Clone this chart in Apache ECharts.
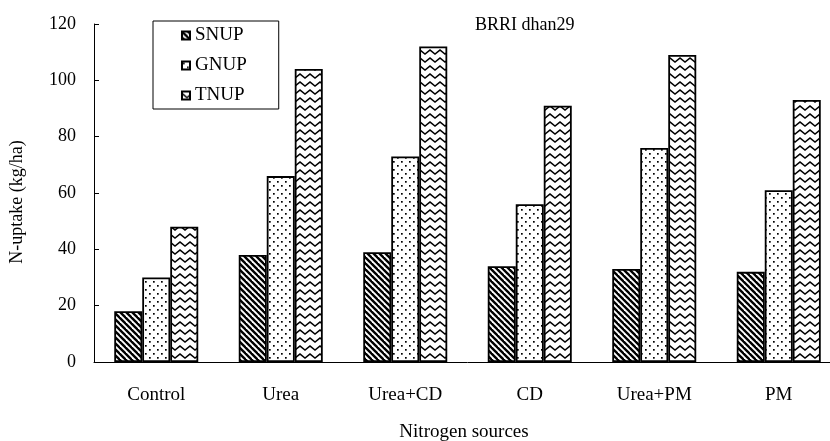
<!DOCTYPE html>
<html>
<head>
<meta charset="utf-8">
<script src="https://cdn.jsdelivr.net/npm/echarts@6/dist/echarts.min.js"></script>
<style>html,body{margin:0;padding:0;background:#fff;overflow:hidden;width:830px;height:441px}#c{width:841px;height:441px}</style>
</head>
<body>
<div id="c"></div>
<script>
const categories = ['Control', 'Urea', 'Urea+CD', 'CD', 'Urea+PM', 'PM'];
const snup = [18, 38, 39, 34, 33, 32];
const gnup = [30, 66, 73, 56, 76, 61];
const tnup = [48, 104, 112, 91, 109, 93];
const seriesNames = ['SNUP', 'GNUP', 'TNUP'];
const yMin = 0, yMax = 120, yStep = 20;

const FONT = '"Liberation Serif", "Times New Roman", serif';

function stripes() {
  const c = document.createElement('canvas'); c.width = 6; c.height = 6;
  const g = c.getContext('2d');
  g.fillStyle = '#fff'; g.fillRect(0, 0, 6, 6);
  g.strokeStyle = '#000'; g.lineWidth = 2.4;
  for (let k = -6; k <= 6; k += 6) {
    g.beginPath(); g.moveTo(k - 1, -1); g.lineTo(k + 7, 7); g.stroke();
  }
  return { image: c, repeat: 'repeat' };
}
function dots() {
  const c = document.createElement('canvas'); c.width = 8; c.height = 8;
  const g = c.getContext('2d');
  g.fillStyle = '#fff'; g.fillRect(0, 0, 8, 8);
  g.fillStyle = '#000';
  g.fillRect(1, 1, 1.7, 1.7);
  g.fillRect(5, 5, 1.7, 1.7);
  return { image: c, repeat: 'repeat' };
}
function zigzag() {
  const c = document.createElement('canvas'); c.width = 10; c.height = 8;
  const g = c.getContext('2d');
  g.fillStyle = '#fff'; g.fillRect(0, 0, 10, 8);
  g.strokeStyle = '#000'; g.lineWidth = 1.4;
  g.beginPath(); g.moveTo(-1, 1.2); g.lineTo(5, 6); g.lineTo(11, 1.2); g.stroke();
  return { image: c, repeat: 'repeat' };
}

const fills = [stripes(), dots(), zigzag()];
const values = [snup, gnup, tnup];

const chart = echarts.init(document.getElementById('c'), null, { renderer: 'canvas' });
chart.setOption({
  animation: false,
  backgroundColor: '#fff',
  textStyle: { fontFamily: FONT, color: '#000' },
  title: [
    { text: 'BRRI dhan29', left: 475, top: 16, padding: 0,
      textStyle: { fontFamily: FONT, fontSize: 18, fontWeight: 'normal', color: '#000' } },
    { text: 'Nitrogen sources', left: 464, top: 423, padding: 0, textAlign: 'center',
      textStyle: { fontFamily: FONT, fontSize: 19, fontWeight: 'normal', color: '#000' } }
  ],
  legend: {
    orient: 'vertical', left: 153, top: 21,
    padding: [5, 32, 4, 28], itemGap: 11,
    itemWidth: 8, itemHeight: 8, icon: 'rect',
    borderColor: '#000', borderWidth: 1, backgroundColor: '#fff',
    textStyle: { fontFamily: FONT, fontSize: 19, lineHeight: 18, color: '#000' },
    data: seriesNames
  },
  grid: { left: 94, top: 24, right: 0, bottom: 79, containLabel: false },
  xAxis: {
    type: 'category', data: categories,
    axisLine: { lineStyle: { color: '#000', width: 1 } },
    axisTick: { inside: true, length: 6, lineStyle: { color: '#000' } },
    axisLabel: { margin: 24, fontFamily: FONT, fontSize: 19, color: '#000' }
  },
  yAxis: {
    type: 'value', min: yMin, max: yMax, interval: yStep,
    name: 'N-uptake (kg/ha)', nameLocation: 'middle', nameGap: 68, nameRotate: 90,
    nameTextStyle: { fontFamily: FONT, fontSize: 18, color: '#000', padding: [0, 18, 0, 0] },
    axisLine: { show: true, lineStyle: { color: '#000', width: 1 } },
    axisTick: { show: true, inside: true, length: 5, lineStyle: { color: '#000' } },
    axisLabel: { margin: 18, fontFamily: FONT, fontSize: 18, color: '#000' },
    splitLine: { show: false }
  },
  series: seriesNames.map((n, i) => ({
    name: n, type: 'bar', data: values[i],
    barWidth: 28, barGap: '0%',
    itemStyle: { color: fills[i], borderColor: '#000', borderWidth: 1.8 },
    emphasis: { disabled: true }
  }))
});
</script>
</body>
</html>
